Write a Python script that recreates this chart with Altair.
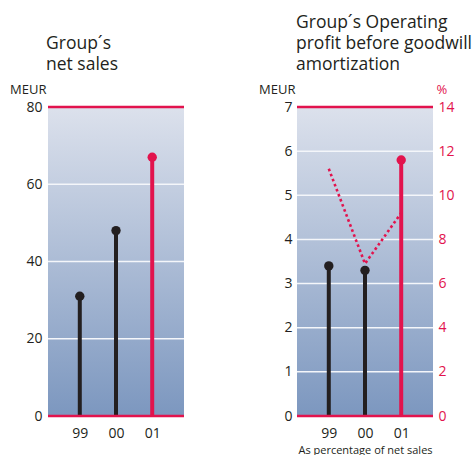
import altair as alt
import pandas as pd

# Fiscal years and reported figures
years = ["99", "00", "01"]
net_sales = [31, 48, 67]        # MEUR
op_profit = [3.4, 3.3, 5.8]     # MEUR, before goodwill amortization
op_margin = [11.2, 6.9, 9.2]    # % of net sales
kind = ["past", "past", "latest"]

sales_ticks = [0, 20, 40, 60, 80]
sales_grid = [20, 40, 60]
sales_frame = [0, 80]
profit_ticks = [0, 1, 2, 3, 4, 5, 6, 7]
profit_grid = [1, 2, 3, 4, 5, 6]
profit_frame = [0, 7]
margin_ticks = [0, 2, 4, 6, 8, 10, 12, 14]

RED = "#e2134d"
INK = "#231f20"
FONT = "Open Sans"
W, H = 136, 309

df = pd.DataFrame({"year": years, "sales": net_sales, "profit": op_profit,
                   "margin": op_margin, "kind": kind})

bg_fill = alt.LinearGradient(
    gradient="linear",
    stops=[alt.GradientStop(color="#dce1ec", offset=0),
           alt.GradientStop(color="#7c97bf", offset=1)],
    x1=0, x2=0, y1=0, y2=1,
)


def x_enc(title=""):
    return alt.X("year:N", sort=years,
                 scale=alt.Scale(type="point", domain=years, padding=0.878),
                 axis=alt.Axis(title=title, ticks=False, domain=False,
                               labelAngle=0, labelPadding=10, labelFontSize=14,
                               labelColor=INK, labelFont=FONT,
                               titleFont=FONT, titleFontSize=11,
                               titleFontWeight="normal", titleColor=INK,
                               titleBaseline="alphabetic", titleY=37,
                               titleX=W / 2, titleAlign="center"))


def meur_y(field, domain, ticks, pad):
    axis = alt.Axis(values=ticks, grid=False, domain=False, ticks=False,
                    labelPadding=pad, labelFontSize=14, labelColor=INK,
                    labelFont=FONT, title="MEUR", titleAngle=0,
                    titleAlign="right", titleBaseline="alphabetic",
                    titleX=-2, titleY=-14, titleFont=FONT, titleFontSize=13,
                    titleFontWeight="normal", titleColor=INK)
    return alt.Y(f"{field}:Q", scale=alt.Scale(domain=domain), axis=axis)


color_enc = alt.Color("kind:N", scale=alt.Scale(domain=["past", "latest"],
                                                range=[INK, RED]), legend=None)


def background():
    return alt.Chart(pd.DataFrame({"one": [1]})).mark_rect(color=bg_fill).encode(
        x=alt.value(0), x2=alt.value(W), y=alt.value(0), y2=alt.value(H))


def hlines(values, y, color, width):
    return alt.Chart(pd.DataFrame({"v": values})).mark_rule(
        color=color, strokeWidth=width).encode(
        x=alt.value(0), x2=alt.value(W), y=y)


def heading(text, dx):
    return alt.Chart(pd.DataFrame({"t": [text]})).mark_text(
        align="left", baseline="alphabetic", font=FONT, fontSize=17.5,
        lineHeight=21, lineBreak="\n", color=INK).encode(
        x=alt.value(dx), y=alt.value(-58 if text.count("\n") == 1 else -79),
        text="t:N")


def panel(field, domain, ticks, grid, frame, pad, x_title, title, dx):
    y_val = meur_y(field, domain, ticks, pad)
    y_ref = meur_y("v", domain, ticks, pad)
    stems = alt.Chart(df).mark_rule(strokeWidth=4).encode(
        x=x_enc(x_title), y=y_val, y2=alt.datum(0), color=color_enc)
    dots = alt.Chart(df).mark_circle(size=88, opacity=1).encode(
        x=x_enc(x_title), y=y_val, color=color_enc)
    return alt.layer(
        background(),
        hlines(grid, y_ref, "#f4f6fa", 1.5),
        stems, dots,
        hlines(frame, y_ref, RED, 2.5),
        heading(title, dx),
    )


# Left panel: net sales
left = panel("sales", [0, 80], sales_ticks, sales_grid, sales_frame, 6, "",
             "Group´s\nnet sales", -2).properties(width=W, height=H)

# Right panel: operating profit (MEUR) with margin (%) on a second axis
margin_line = alt.Chart(df).mark_line(
    color=RED, strokeWidth=2.6, strokeDash=[2.6, 2.8], strokeCap="butt").encode(
    x=x_enc("As percentage of net sales"),
    y=alt.Y("margin:Q", scale=alt.Scale(domain=[0, 14]),
            axis=alt.Axis(orient="right", values=margin_ticks,
                          grid=False, domain=False, ticks=False, labelPadding=5,
                          labelFontSize=14, labelColor=RED, labelFont=FONT,
                          title="%", titleAngle=0, titleAlign="left",
                          titleBaseline="alphabetic", titleX=3, titleY=-14,
                          titleFont=FONT, titleFontSize=13,
                          titleFontWeight="normal", titleColor=RED)))
right = alt.layer(
    panel("profit", [0, 7], profit_ticks, profit_grid, profit_frame, 5,
          "As percentage of net sales",
          "Group´s Operating\nprofit before goodwill\namortization", -1),
    margin_line,
).resolve_scale(y="independent").properties(width=W, height=H)

chart = alt.hconcat(left, right, spacing=113, bounds="flush").properties(
    padding={"left": 9, "top": 14, "right": 0, "bottom": 0}
).configure_view(strokeWidth=0)

chart.save("out.html", embed_options={"renderer": "svg", "actions": False})
